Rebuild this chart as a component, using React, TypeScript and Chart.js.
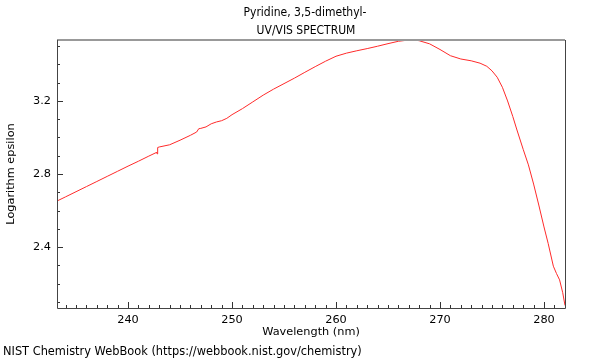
import React, { useEffect, useRef } from "react";
import { Chart, registerables } from "chart.js";

Chart.register(...registerables);

const titleLines = ["Pyridine, 3,5-dimethyl-", "UV/VIS SPECTRUM"];
const xAxisTitle = "Wavelength (nm)";
const yAxisTitle = "Logarithm epsilon";
const footerText = "NIST Chemistry WebBook (https://webbook.nist.gov/chemistry)";

const xTickLabels = [240, 250, 260, 270, 280];
const yTickLabels = [2.4, 2.8, 3.2];
const xMinorTicks = [234, 235, 236, 237, 238, 239, 240, 241, 242, 243, 244, 245, 246, 247, 248, 249, 250, 251, 252, 253, 254, 255, 256, 257, 258, 259, 260, 261, 262, 263, 264, 265, 266, 267, 268, 269, 270, 271, 272, 273, 274, 275, 276, 277, 278, 279, 280, 281, 282];
const yMinorTicks = [2.1, 2.2, 2.3, 2.4, 2.5, 2.6, 2.7, 2.8, 2.9, 3.0, 3.1, 3.2, 3.3, 3.4, 3.5];

const xMin = 233.17;
const xMax = 282.02;
const yMin = 2.066;
const yMax = 3.534;

const wavelengths = [
  233.17, 234, 235, 236, 237, 238, 239, 240, 241, 242, 242.7, 242.75, 242.8, 242.85, 243,
  244, 245, 246, 246.6, 246.8, 247, 247.5, 248, 248.5, 249, 249.5, 250, 251, 252, 253,
  254, 255, 256, 257, 258, 259, 260, 261, 262, 263, 264, 265, 266, 267, 267.5, 268, 269,
  270, 271, 272, 273, 273.85, 274.5, 275, 275.5, 276, 276.5, 277, 277.4, 278, 278.5, 279,
  279.5, 280, 280.4, 280.9, 281.2, 281.5, 281.8, 282.02,
];
const logEpsilon = [
  2.652, 2.675, 2.703, 2.731, 2.759, 2.787, 2.815, 2.843, 2.870, 2.898, 2.917, 2.92, 2.91, 2.945, 2.948,
  2.96, 2.985, 3.012, 3.03, 3.048, 3.05, 3.058, 3.075, 3.085, 3.092, 3.105, 3.125, 3.158, 3.195, 3.232,
  3.265, 3.295, 3.325, 3.357, 3.388, 3.418, 3.445, 3.462, 3.475, 3.487, 3.5, 3.514, 3.527, 3.534, 3.535, 3.53, 3.513,
  3.482, 3.448, 3.43, 3.42, 3.407, 3.39, 3.365, 3.33, 3.275, 3.2, 3.115, 3.041, 2.935, 2.85, 2.745,
  2.63, 2.51, 2.42, 2.295, 2.255, 2.22, 2.15, 2.08,
];

const FONT = "'DejaVu Sans', sans-serif";
const TITLE_FONT = "'DejaVu Sans Condensed', 'DejaVu Sans', sans-serif";

const decorPlugin = {
  id: "decor",
  afterDraw(chart: any) {
    const { ctx, chartArea } = chart;
    const { left, right, top, bottom } = chartArea;
    const xs = chart.scales.x;
    const ys = chart.scales.y;
    ctx.save();
    ctx.lineWidth = 1;
    ctx.strokeStyle = "#333";
    ctx.beginPath();
    xMinorTicks.forEach((v) => {
      const px = Math.round(xs.getPixelForValue(v)) + 0.5;
      const len = xTickLabels.includes(v) ? 6 : 3;
      ctx.moveTo(px, bottom);
      ctx.lineTo(px, bottom - len);
    });
    yMinorTicks.forEach((v) => {
      const py = Math.round(ys.getPixelForValue(v)) + 0.5;
      const len = yTickLabels.includes(v) ? 6 : 3;
      ctx.moveTo(left, py);
      ctx.lineTo(left + len, py);
    });
    ctx.stroke();

    // frame
    ctx.strokeStyle = "#999";
    ctx.lineWidth = 2;
    ctx.beginPath();
    ctx.moveTo(left, top);
    ctx.lineTo(right, top);
    ctx.stroke();
    ctx.strokeStyle = "#444";
    ctx.lineWidth = 1;
    ctx.beginPath();
    ctx.moveTo(left + 0.5, top);
    ctx.lineTo(left + 0.5, bottom + 0.5);
    ctx.lineTo(right + 0.5, bottom + 0.5);
    ctx.lineTo(right + 0.5, top);
    ctx.stroke();

    // texts
    ctx.fillStyle = "#000";
    ctx.textAlign = "center";
    ctx.textBaseline = "middle";
    const cx = (left + right) / 2;
    ctx.font = `12px ${TITLE_FONT}`;
    ctx.fillText(titleLines[0], 305, 13);
    ctx.fillText(titleLines[1], 306, 31);
    ctx.font = `11.3px ${FONT}`;
    ctx.fillText(xAxisTitle, cx, 332);
    ctx.save();
    ctx.translate(11, (top + bottom) / 2);
    ctx.rotate(-Math.PI / 2);
    ctx.fillText(yAxisTitle, 0, 0);
    ctx.restore();
    ctx.textAlign = "left";
    ctx.font = `11.4px ${FONT}`;
    ctx.fillText(footerText, 3, 352);
    ctx.restore();
  },
};

export default function App() {
  const ref = useRef<HTMLCanvasElement>(null);
  useEffect(() => {
    if (!ref.current) return;
    const chart = new Chart(ref.current, {
      type: "line",
      data: {
        datasets: [
          {
            data: wavelengths.map((x, i) => ({ x, y: logEpsilon[i] })),
            borderColor: "#ff2a2a",
            borderWidth: 1,
            pointRadius: 0,
            tension: 0,
            fill: false,
          },
        ],
      },
      options: {
        animation: false,
        responsive: false,
        devicePixelRatio: 1,
        layout: { padding: { top: 40, right: 35, left: 0, bottom: 0 } },
        plugins: { legend: { display: false }, title: { display: false }, tooltip: { enabled: false } },
        scales: {
          x: {
            type: "linear",
            min: xMin,
            max: xMax,
            afterBuildTicks: (s: any) => {
              s.ticks = xTickLabels.map((v) => ({ value: v }));
            },
            afterFit: (s: any) => {
              s.height = 52;
            },
            grid: { display: false, drawTicks: false },
            border: { display: false },
            ticks: { padding: 5, color: "#000", font: { family: FONT, size: 11.3 }, maxRotation: 0, autoSkip: false },
          },
          y: {
            type: "linear",
            min: yMin,
            max: yMax,
            afterBuildTicks: (s: any) => {
              s.ticks = yTickLabels.map((v) => ({ value: v }));
            },
            afterFit: (s: any) => {
              s.width = 57;
            },
            grid: { display: false, drawTicks: false },
            border: { display: false },
            ticks: {
              padding: 6,
              color: "#000",
              font: { family: FONT, size: 11.3 },
              autoSkip: false,
              callback: (v: any) => Number(v).toFixed(1),
            },
          },
        },
      },
      plugins: [decorPlugin],
    });
    return () => chart.destroy();
  }, []);
  return (
    <div style={{ position: "fixed", left: 0, top: 0, width: 600, height: 360, background: "#fff" }}>
      <canvas ref={ref} width={600} height={360} style={{ width: 600, height: 360 }} />
    </div>
  );
}
